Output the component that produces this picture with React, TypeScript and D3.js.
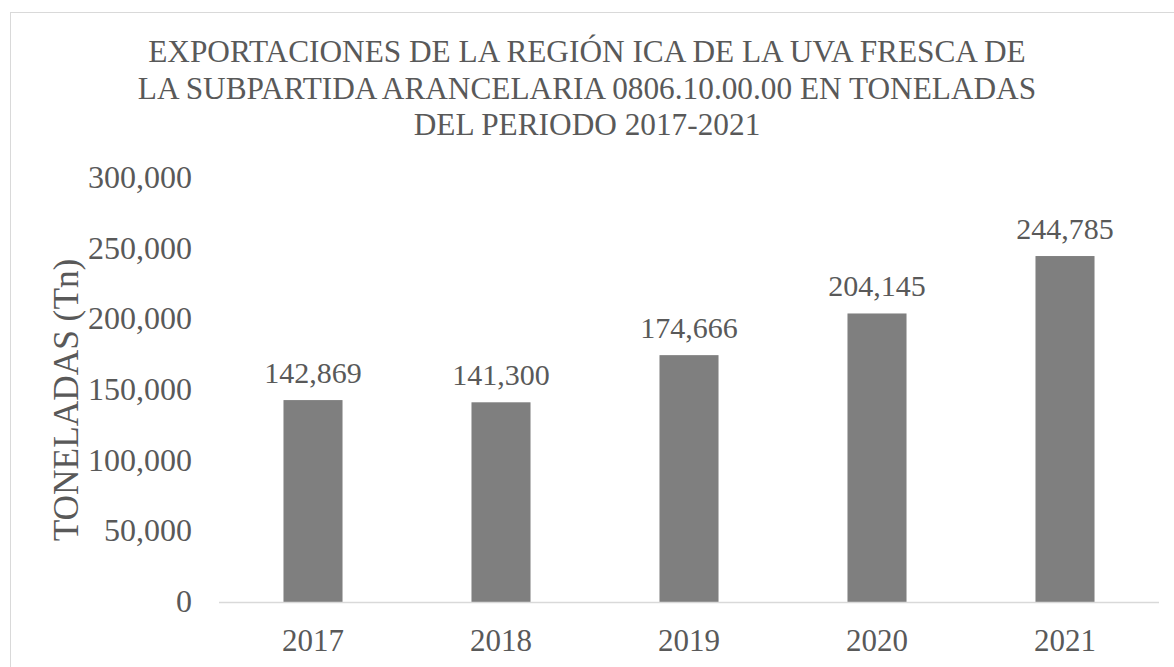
import React, { useEffect, useRef } from "react";
import * as d3 from "d3";

const years = ["2017", "2018", "2019", "2020", "2021"];
const tonnes = [142869, 141300, 174666, 204145, 244785];
const yTicks = [0, 50000, 100000, 150000, 200000, 250000, 300000];
const titleLines = [
  "EXPORTACIONES DE LA REGIÓN ICA DE LA UVA FRESCA DE",
  "LA SUBPARTIDA ARANCELARIA 0806.10.00.00 EN TONELADAS",
  "DEL PERIODO 2017-2021",
];

const FONT = "'Liberation Serif', 'Times New Roman', Tinos, 'DejaVu Serif', serif";
const TEXT = "#595959";

export default function App() {
  const svgRef = useRef<SVGSVGElement>(null);

  useEffect(() => {
    const svg = d3.select(svgRef.current);
    svg.selectAll("*").remove();
    const width = 1174;
    const height = 667;
    const plot = { left: 219, right: 1159, top: 178, bottom: 602 };

    // outer chart border
    svg.append("rect")
      .attr("x", 10.5).attr("y", 12.5)
      .attr("width", width).attr("height", height)
      .attr("fill", "#fff").attr("stroke", "#d9d9d9");

    const x = d3.scaleBand().domain(years).range([plot.left, plot.right]).paddingInner(0.686).paddingOuter(0.343);
    const y = d3.scaleLinear().domain([0, 300000]).range([plot.bottom, plot.top]);

    const g = svg.append("g").style("font-family", FONT).attr("fill", TEXT);

    // title
    g.append("g").selectAll("text")
      .data(titleLines)
      .join("text")
      .attr("x", 587)
      .attr("y", (d, i) => 62 + i * 36.5)
      .attr("text-anchor", "middle")
      .attr("font-size", 31.3)
      .text(d => d);

    // y tick labels
    g.append("g").selectAll("text")
      .data(yTicks)
      .join("text")
      .attr("x", 192)
      .attr("y", d => y(d) + 10)
      .attr("text-anchor", "end")
      .attr("font-size", 32)
      .text(d => d3.format(",")(d));

    // y axis title
    g.append("text")
      .attr("transform", "translate(78,400) rotate(-90)")
      .attr("text-anchor", "middle")
      .attr("font-size", 35.3)
      .text("TONELADAS (Tn)");

    // bars
    svg.append("g").selectAll("rect")
      .data(tonnes)
      .join("rect")
      .attr("x", (d, i) => x(years[i])!)
      .attr("y", d => y(d))
      .attr("width", x.bandwidth())
      .attr("height", d => plot.bottom - y(d))
      .attr("fill", "#7f7f7f");

    // baseline
    svg.append("line")
      .attr("x1", plot.left).attr("x2", plot.right)
      .attr("y1", plot.bottom + 0.5).attr("y2", plot.bottom + 0.5)
      .attr("stroke", "#d9d9d9").attr("stroke-width", 1.5);

    // data labels
    g.append("g").selectAll("text")
      .data(tonnes)
      .join("text")
      .attr("x", (d, i) => x(years[i])! + x.bandwidth() / 2)
      .attr("y", d => y(d) - 17)
      .attr("text-anchor", "middle")
      .attr("font-size", 30)
      .text(d => d3.format(",")(d));

    // x labels
    g.append("g").selectAll("text")
      .data(years)
      .join("text")
      .attr("x", d => x(d)! + x.bandwidth() / 2)
      .attr("y", 651)
      .attr("text-anchor", "middle")
      .attr("font-size", 31)
      .text(d => d);
  }, []);

  return (
    <svg
      ref={svgRef}
      width={1174}
      height={667}
      style={{ position: "absolute", left: 0, top: 0, background: "#fff" }}
    />
  );
}
